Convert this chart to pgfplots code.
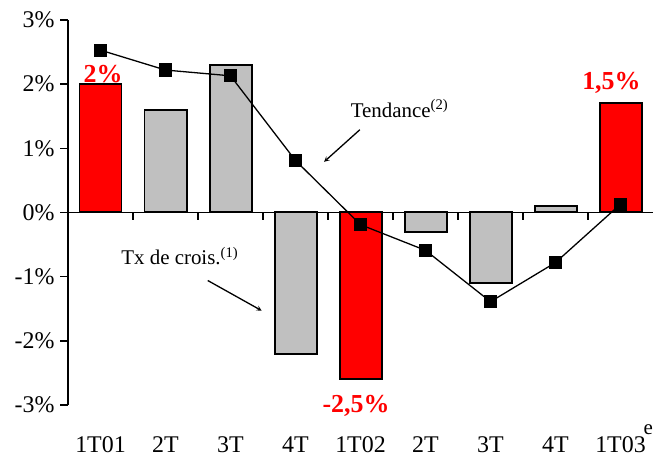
\documentclass[border=0pt]{standalone}
\usepackage{pgfplots}
\pgfplotsset{compat=1.18}
\usepackage{fontspec}
\setmainfont{Liberation Serif}
\definecolor{barred}{RGB}{255,0,0}
\definecolor{bargray}{RGB}{192,192,192}

\begin{document}
\begin{tikzpicture}[x=1bp,y=1bp]
\useasboundingbox (0,0) rectangle (658,454);
\begin{axis}[
  at={(68bp,49bp)}, anchor=south west,
  scale only axis, width=585bp, height=385bp,
  xmin=-0.5, xmax=8.5, ymin=-3, ymax=3,
  axis x line*=bottom,
  x axis line style={draw=none},
  xtick={0,1,2,3,4,5,6,7,8},
  xticklabels={1T01,2T,3T,4T,1T02,2T,3T,4T,1T03},
  xtick style={draw=none},
  xticklabel style={font=\fontsize{24}{27}\selectfont, anchor=base, yshift=-40bp, inner sep=0pt},
  axis y line*=left,
  y axis line style={line width=1.6pt, -},
  ytick={-3,-2,-1,0,1,2,3},
  yticklabel={\pgfmathprintnumber{\tick}\%},
  /pgf/number format/assume math mode=true,
  tick align=outside,
  major tick length=8bp,
  ytick style={line width=1.6pt, black},
  yticklabel style={font=\fontsize{24}{27}\selectfont, xshift=-2bp},
  clip=false,
]
% bars
\addplot[ybar, bar width=42bp, fill=bargray, draw=black, line width=2pt]
coordinates {(1,1.6) (2,2.3) (3,-2.2) (5,-0.3) (6,-1.1) (7,0.1)};
\addplot[ybar, bar width=42bp, fill=barred, draw=black, line width=2pt]
coordinates {(0,2.0) (4,-2.6) (8,1.7)};
% zero line with boundary ticks
\draw[line width=1.6pt] (axis cs:-0.5,0) -- (axis cs:8.5,0);
\pgfplotsinvokeforeach{0.5,1.5,2.5,3.5,4.5,5.5,6.5,7.5}{
  \draw[line width=1.6pt] (axis cs:#1,0) -- ++(0pt,-8bp);
}
% trend
\addplot[black, line width=1.3pt, mark=square*, mark size=6bp]
coordinates {(0,2.53) (1,2.22) (2,2.13) (3,0.81) (4,-0.19) (5,-0.59) (6,-1.39) (7,-0.78) (8,0.13)};
\node[anchor=base west, font=\fontsize{21}{24}\selectfont, inner sep=0pt]
  at ([xshift=23bp,yshift=-30bp]axis cs:8,-3) {e};
% value labels
\node[anchor=base, text=barred, font=\fontsize{26}{30}\selectfont\bfseries, inner sep=0pt]
  at (axis cs:0.04,2.03) {2\%};
\node[anchor=base, text=barred, font=\fontsize{26}{30}\selectfont\bfseries, inner sep=0pt]
  at (axis cs:7.86,1.91) {1,5\%};
\node[anchor=base, text=barred, font=\fontsize{26}{30}\selectfont\bfseries, inner sep=0pt]
  at (axis cs:3.93,-3.12) {-2,5\%};
% annotations
\node[font=\fontsize{21}{24}\selectfont, inner sep=0pt]
  at (axis cs:4.6,1.62) {Tendance\textsuperscript{(2)}};
\draw[-stealth, line width=1.3pt] (axis cs:3.99,1.29) -- (axis cs:3.44,0.79);
\node[font=\fontsize{21}{24}\selectfont, inner sep=0pt]
  at (axis cs:1.22,-0.68) {Tx de crois.\textsuperscript{(1)}};
\draw[-stealth, line width=1.3pt] (axis cs:1.65,-1.06) -- (axis cs:2.48,-1.53);
\end{axis}
\end{tikzpicture}
\end{document}
